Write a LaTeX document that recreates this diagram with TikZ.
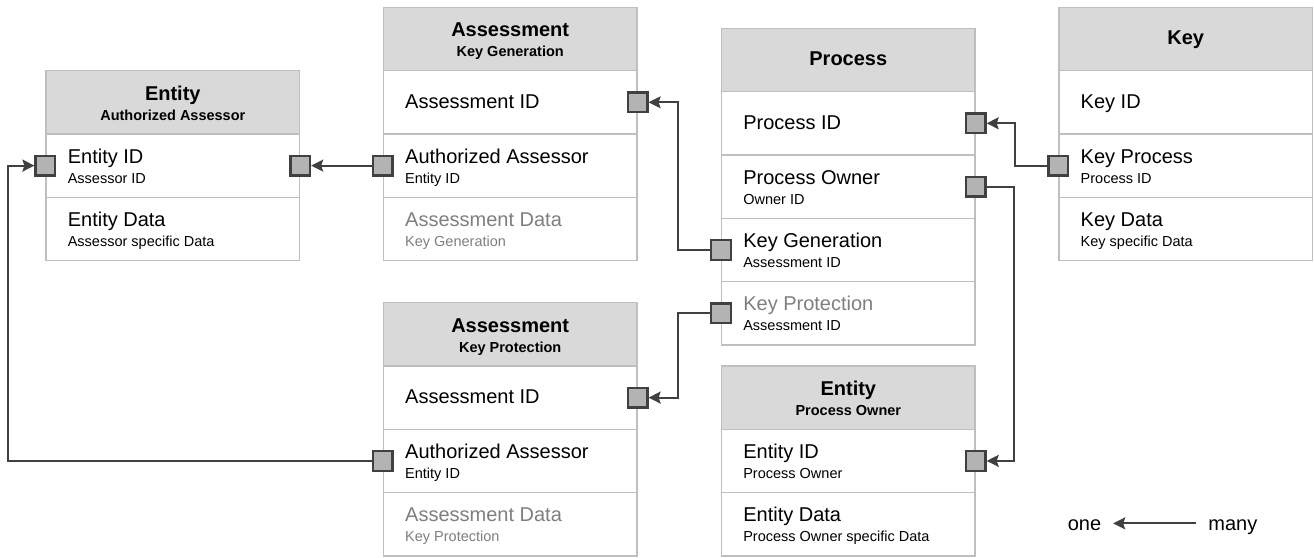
\documentclass[tikz,border=0pt]{standalone}
\usepackage{fontspec}
\setmainfont{Liberation Sans}
\usetikzlibrary{arrows.meta}
\definecolor{boxline}{HTML}{BFBFBF}
\definecolor{headfill}{HTML}{D9D9D9}
\definecolor{portfill}{HTML}{B3B3B6}
\definecolor{linkcol}{HTML}{404040}
\definecolor{dimtext}{HTML}{7F7F7F}
\newcommand{\hdr}[2]{\vtop{\baselineskip=20pt\hbox to 250pt{\hss\bfseries\fontsize{20}{24}\selectfont #1\hss}\hbox to 250pt{\hss\bfseries\fontsize{14.5}{18}\selectfont #2\hss}}}
\newcommand{\hdrone}[1]{\bfseries\fontsize{20}{24}\selectfont #1}
\newcommand{\fld}[2]{\hbox to 210pt{\vtop{\baselineskip=20pt\hbox{\fontsize{20}{24}\selectfont #1}\hbox{\fontsize{14.5}{18}\selectfont #2}}\hss}}
\newcommand{\fldone}[1]{\hbox to 210pt{\fontsize{20}{24}\selectfont #1\hss}}
\tikzstyle{head} = [rectangle, draw=boxline, line width=1.3pt, fill=headfill, minimum width=253.5pt, minimum height=63.3pt, inner sep=0pt, text height=29.5pt, text depth=33.8pt]
\tikzstyle{field} = [rectangle, draw=boxline, line width=1.3pt, fill=white, minimum width=253.5pt, minimum height=63.3pt, inner sep=0pt, text height=29.4pt, text depth=33.9pt]
\tikzstyle{single} = [text height=37.5pt, text depth=25.8pt]
\tikzstyle{port} = [rectangle, draw=linkcol, line width=2.4pt, fill=portfill, minimum size=19.6pt, inner sep=0pt]
\tikzstyle{link} = [draw=linkcol, line width=1.8pt, -{Stealth[length=12pt,width=12pt,inset=2pt]}]
\tikzstyle{legend} = [inner xsep=11.8pt, inner ysep=0pt, text height=14.5pt, text depth=1.2pt, font=\fontsize{20}{24}\selectfont]

\begin{document}
\begin{tikzpicture}[x=1pt,y=-1pt]
    \useasboundingbox (0,0) rectangle (1314,557);
    % Entity - Authorized Assessor
    \node [head] at (172.8,102.3) (ea) {\hdr{Entity}{Authorized Assessor}};
    \node [field] at (172.8,165.6) (ea1) {\fld{Entity ID}{Assessor ID}};
    \node [field] at (172.8,228.9) (ea2) {\fld{Entity Data}{Assessor specific Data}};
    % Assessment - Key Generation
    \node [head] at (510.2,39) (kg) {\hdr{Assessment}{Key Generation}};
    \node [field, single] at (510.2,102.3) (kg1) {\fldone{Assessment ID}};
    \node [field] at (510.2,165.6) (kg2) {\fld{Authorized Assessor}{Entity ID}};
    \node [field] at (510.2,228.9) (kg3) {\fld{\color{dimtext}Assessment Data}{\color{dimtext}Key Generation}};
    % Assessment - Key Protection
    \node [head] at (510.2,334.3) (kp) {\hdr{Assessment}{Key Protection}};
    \node [field, single] at (510.2,397.6) (kp1) {\fldone{Assessment ID}};
    \node [field] at (510.2,460.9) (kp2) {\fld{Authorized Assessor}{Entity ID}};
    \node [field] at (510.2,524.2) (kp3) {\fld{\color{dimtext}Assessment Data}{\color{dimtext}Key Protection}};
    % Process
    \node [head, single] at (848.3,60) (proc) {\hdrone{Process}};
    \node [field, single] at (848.3,123.3) (proc1) {\fldone{Process ID}};
    \node [field] at (848.3,186.6) (proc2) {\fld{Process Owner}{Owner ID}};
    \node [field] at (848.3,249.9) (proc3) {\fld{Key Generation}{Assessment ID}};
    \node [field] at (848.3,313.2) (proc4) {\fld{\color{dimtext}Key Protection}{Assessment ID}};
    % Entity - Process Owner
    \node [head] at (848.3,397.6) (eo) {\hdr{Entity}{Process Owner}};
    \node [field] at (848.3,460.9) (eo1) {\fld{Entity ID}{Process Owner}};
    \node [field] at (848.3,524.2) (eo2) {\fld{Entity Data}{Process Owner specific Data}};
    % Key
    \node [head, single] at (1185.7,39) (key) {\hdrone{Key}};
    \node [field, single] at (1185.7,102.3) (key1) {\fldone{Key ID}};
    \node [field] at (1185.7,165.6) (key2) {\fld{Key Process}{Process ID}};
    \node [field] at (1185.7,228.9) (key3) {\fld{Key Data}{Key specific Data}};

    % ports
    \node [port] at (ea1.west) (ea1w) {};
    \node [port] at (ea1.east) (ea1e) {};
    \node [port] at (kg1.east) (kg1e) {};
    \node [port] at (kg2.west) (kg2w) {};
    \node [port] at (kp1.east) (kp1e) {};
    \node [port] at (kp2.west) (kp2w) {};
    \node [port] at (proc1.east) (proc1e) {};
    \node [port] at (proc2.east) (proc2e) {};
    \node [port] at (proc3.west) (proc3w) {};
    \node [port] at (proc4.west) (proc4w) {};
    \node [port] at (eo1.east) (eo1e) {};
    \node [port] at (key2.west) (key2w) {};

    % links (many -> one)
    \draw [link] (kg2w.west) -- (ea1e.east);
    \draw [link] (proc3w.west) -- ++(-31.7,0) |- (kg1e.east);
    \draw [link] (proc4w.west) -- ++(-31.7,0) |- (kp1e.east);
    \draw [link] (key2w.west) -- ++(-32.2,0) |- (proc1e.east);
    \draw [link] (proc2e.east) -- ++(27.6,0) |- (eo1e.east);
    \draw [link] (kp2w.west) -- ++(-363.5,0) |- (ea1w.west);

    % legend
    \node [legend, anchor=base] at (1084.5,530) (one) {one};
    \node [legend, anchor=base] at (1232.8,530) (many) {many};
    \draw [link] (many) -- (one);
\end{tikzpicture}
\end{document}
